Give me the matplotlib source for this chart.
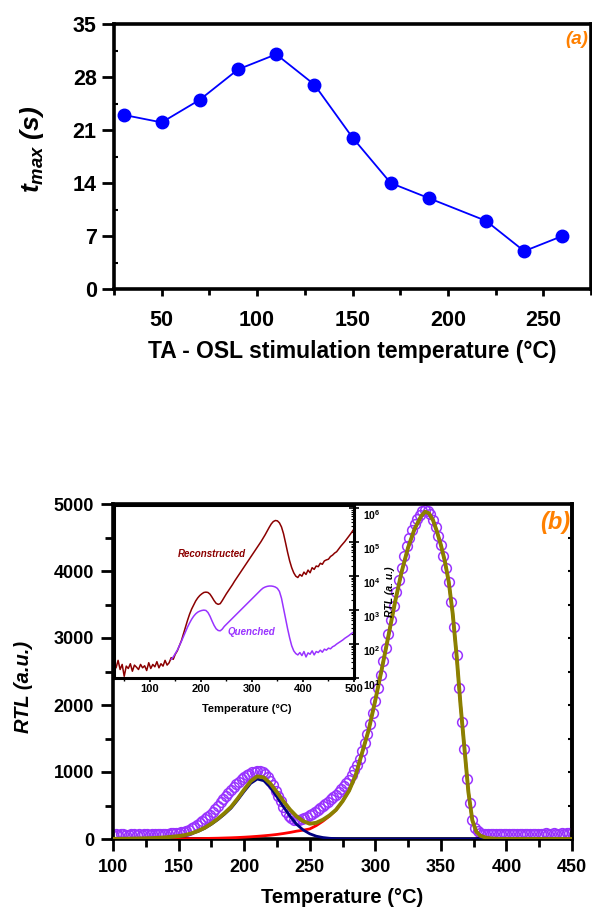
import numpy as np
import matplotlib.pyplot as plt
from matplotlib.ticker import MultipleLocator, FixedLocator, LogLocator, NullFormatter

plt.rcParams['font.family'] = ['Liberation Sans', 'DejaVu Sans']
plt.rcParams['font.weight'] = 'bold'
plt.rcParams['mathtext.fontset'] = 'custom'
plt.rcParams['mathtext.rm'] = 'Liberation Sans:bold'
plt.rcParams['mathtext.it'] = 'Liberation Sans:bold:italic'
plt.rcParams['mathtext.bf'] = 'Liberation Sans:bold'

# ---- panel (a): t_max vs stimulation temperature
stim_temp = [30, 50, 70, 90, 110, 130, 150, 170, 190, 220, 240, 260]
t_max = [23, 22, 25, 29, 31, 27, 20, 14, 12, 9, 5, 7]

# ---- panel (b): measured RTL glow curve (every 2 degC from 100 to 450)
meas_T = np.arange(100, 451, 2)
meas_rtl = [65, 70, 62, 68, 72, 66, 60, 70, 74, 65, 68, 63, 70, 72, 66, 69, 75, 71, 68, 73, 78,
            80, 85, 90, 88, 95, 105, 110, 125, 140, 160,
            185, 210, 235, 265, 295, 330, 365, 405, 450, 500,
            545, 590, 635, 680, 725, 770, 815, 855, 890, 920,
            950, 975, 995, 1005, 1015, 1020, 1005, 975, 930, 870,
            800, 720, 640, 560, 480, 410, 350, 310, 285, 280,
            285, 295, 310, 330, 355, 380, 405, 430, 460, 490,
            520, 555, 590, 625, 660, 700, 740, 785, 830, 880,
            960, 1030, 1110, 1200, 1310, 1430, 1560, 1710, 1880, 2060,
            2250, 2450, 2650, 2850, 3060, 3270, 3480, 3680, 3870, 4050,
            4220, 4370, 4500, 4610, 4700, 4780, 4840, 4890, 4910, 4900,
            4850, 4760, 4650, 4520, 4390, 4230, 4040, 3840, 3530, 3160,
            2740, 2250, 1750, 1350, 900, 530, 290, 170, 115, 90,
            80, 75, 72, 78, 70, 74, 80, 68, 76, 72,
            70, 78, 74, 80, 72, 76, 82, 70, 78, 75,
            80, 74, 82, 77, 85, 72, 80, 86, 78, 82,
            88, 80, 85, 90, 84]

# fitted components
fit_T = [100, 110, 120, 130, 140, 150,
         155, 160, 165, 170, 175, 180, 185, 190, 195, 200, 205, 210, 215, 220, 225,
         230, 235, 240, 245, 250, 255, 260, 265, 270, 275, 280, 285, 290, 295, 300,
         305, 310, 315, 320, 325, 330, 335,
         338, 341, 344, 347, 350, 353, 356, 359, 362, 365, 368, 371, 374, 377, 380,
         385, 390, 395, 400, 420, 450]
fit_peak1 = [2, 4, 7, 12, 22, 40,
             55, 80, 115, 160, 220, 290, 370, 460, 580, 710, 830, 895, 870, 770, 630,
             480, 340, 220, 135, 78, 42, 22, 11, 5, 2, 1, 0, 0, 0, 0,
             0, 0, 0, 0, 0, 0, 0,
             0, 0, 0, 0, 0, 0, 0, 0, 0, 0, 0, 0, 0, 0, 0,
             0, 0, 0, 0, 0, 0]
fit_peak2 = [0, 0, 1, 1, 2, 3,
             4, 5, 6, 8, 10, 12, 15, 18, 22, 27, 33, 40, 48, 57, 68,
             82, 98, 117, 132, 150, 200, 265, 340, 430, 560, 720, 950, 1290, 1630, 2070,
             2540, 3030, 3530, 3980, 4350, 4630, 4820,
             4885, 4860, 4760, 4590, 4390, 4150, 3840, 3370, 2740, 2000, 1350, 700, 280, 110, 50,
             15, 5, 1, 0, 0, 0]
fit_total = np.array(fit_peak1) + np.array(fit_peak2)

# inset: log10 RTL, 4 degC steps
recon_T = np.arange(30, 499, 4)
recon_log = [1.45, 1.30, 1.52, 1.25, 1.40, 1.05, 1.35, 1.28, 1.42, 1.20, 1.38, 1.32, 1.25, 1.40, 1.30,
             1.36, 1.22, 1.45, 1.28, 1.40, 1.33, 1.48, 1.30, 1.42, 1.35, 1.52, 1.38, 1.45, 1.60,
             1.55, 1.70, 1.80, 1.95, 2.10, 2.30, 2.50, 2.70, 2.88, 3.03, 3.15, 3.27, 3.36, 3.43,
             3.48, 3.52, 3.53,
             3.52, 3.47, 3.38, 3.28, 3.20, 3.17, 3.19,
             3.28, 3.38, 3.48, 3.57, 3.66, 3.75, 3.85, 3.94, 4.03, 4.12, 4.21, 4.30, 4.39, 4.48,
             4.57, 4.66, 4.75, 4.84, 4.93, 5.02, 5.12, 5.22, 5.33, 5.44, 5.54, 5.61, 5.64, 5.63,
             5.57, 5.45, 5.25, 4.98, 4.70, 4.45, 4.25, 4.10, 4.00, 3.96,
             4.05, 4.00, 4.12, 4.05, 4.18, 4.10, 4.25, 4.20, 4.30, 4.28, 4.38, 4.35, 4.45, 4.48,
             4.50, 4.58, 4.62, 4.68, 4.72, 4.80, 4.88, 4.95, 5.02, 5.10, 5.18, 5.26, 5.35]
quench_T = np.arange(142, 499, 4)
quench_log = [1.55, 1.62, 1.72, 1.82, 1.95, 2.08, 2.22, 2.36, 2.50, 2.62, 2.73, 2.82, 2.89, 2.94,
              2.97, 2.99, 3.00, 2.99,
              2.93, 2.82, 2.68, 2.55, 2.45, 2.40, 2.39, 2.44,
              2.52, 2.58, 2.64, 2.70, 2.76, 2.82, 2.88, 2.94, 3.00, 3.06, 3.12, 3.18, 3.24, 3.30,
              3.36, 3.42, 3.48, 3.54, 3.60, 3.65, 3.68, 3.70, 3.71, 3.71, 3.70, 3.68, 3.64,
              3.55, 3.35, 3.05, 2.75, 2.45, 2.18, 1.95, 1.80, 1.72, 1.68,
              1.75, 1.66, 1.78, 1.62, 1.74, 1.70, 1.80, 1.68, 1.78, 1.75, 1.82, 1.76, 1.85, 1.82,
              1.88, 1.86, 1.92, 1.95, 2.00, 2.04, 2.08, 2.12, 2.17, 2.21, 2.25, 2.30, 2.34]

orange = '#FF8000'
purple = '#9933FF'
W, H = 592, 908

fig = plt.figure(figsize=(5.92, 9.08), dpi=100)

# ================= panel (a)
ax1 = fig.add_axes([114 / W, 1 - 289 / H, 477 / W, 265 / H])
ax1.plot(stim_temp, t_max, color='#0000FF', lw=1.3, marker='o', ms=9, zorder=3)
ax1.set_xlim(25, 275)
ax1.set_ylim(0, 35)
ax1.xaxis.set_major_locator(FixedLocator([50, 100, 150, 200, 250]))
ax1.xaxis.set_minor_locator(FixedLocator([25, 75, 125, 175, 225, 275]))
ax1.yaxis.set_major_locator(MultipleLocator(7))
ax1.yaxis.set_minor_locator(FixedLocator([3.5, 10.5, 17.5, 24.5, 31.5]))
ax1.tick_params(axis='x', which='major', direction='out', length=5, width=2, labelsize=15.5, pad=10)
ax1.tick_params(axis='x', which='minor', direction='out', length=4, width=2)
ax1.tick_params(axis='y', which='major', direction='out', length=8.5, width=2, labelsize=15.5, pad=4)
ax1.tick_params(axis='y', which='minor', direction='in', length=3, width=1.5)
for s in ax1.spines.values():
    s.set_linewidth(2.6)
ax1.set_xlabel('TA - OSL stimulation temperature (°C)', fontsize=16.5, fontweight='bold')
ax1.xaxis.set_label_coords(0.499, -0.234)
ax1.xaxis.label.set_va('center')
ax1.set_ylabel(r'$t_{max}$ (s)', fontsize=19, fontweight='bold', fontstyle='italic')
ax1.yaxis.set_label_coords(-0.172, 0.528)
ax1.yaxis.label.set_va('center')
fig.text(577 / W, 1 - 40 / H, '(a)', color=orange, fontsize=13.5, fontweight='bold',
         fontstyle='italic', ha='center', va='center')

# ================= panel (b)
ax2 = fig.add_axes([113 / W, 1 - 839 / H, 459 / W, 335 / H])
ax2.plot(meas_T, meas_rtl, ls='none', marker='o', ms=7, mfc='none', mec=purple, mew=1.1, zorder=2)
ax2.plot(fit_T, fit_peak2, color='#FF0000', lw=2.0, zorder=3)
ax2.plot(fit_T, fit_peak1, color='#000080', lw=2.0, zorder=4)
ax2.plot(fit_T, fit_total, color='#8B8000', lw=2.8, zorder=5)
ax2.set_xlim(100, 450)
ax2.set_ylim(0, 5000)
ax2.xaxis.set_major_locator(MultipleLocator(50))
ax2.xaxis.set_minor_locator(MultipleLocator(25))
ax2.yaxis.set_major_locator(MultipleLocator(1000))
ax2.yaxis.set_minor_locator(MultipleLocator(500))
ax2.tick_params(axis='both', which='major', direction='out', length=8.5, width=2, labelsize=13)
ax2.tick_params(axis='both', which='minor', direction='out', length=5.5, width=2)
ax2.tick_params(axis='x', which='major', pad=6)
ax2.tick_params(axis='y', which='major', pad=5)
for s in ax2.spines.values():
    s.set_linewidth(2.6)
# inward ticks on the right spine
sec = ax2.secondary_yaxis('right')
sec.yaxis.set_major_locator(MultipleLocator(1000))
sec.yaxis.set_minor_locator(MultipleLocator(500))
sec.tick_params(axis='y', which='both', direction='in', length=3, width=1.5, labelright=False)
sec.spines['right'].set_linewidth(2.6)
ax2.set_xlabel('Temperature (°C)', fontsize=14.5, fontweight='bold')
ax2.xaxis.set_label_coords(0.5, -0.176)
ax2.xaxis.label.set_va('center')
ax2.set_ylabel('RTL (a.u.)', fontsize=14.5, fontweight='bold', fontstyle='italic')
ax2.yaxis.set_label_coords(-0.196, 0.454)
ax2.yaxis.label.set_va('center')
fig.text(555 / W, 1 - 522 / H, '(b)', color=orange, fontsize=17, fontweight='bold',
         fontstyle='italic', ha='center', va='center')

# ================= inset
ins = fig.add_axes([114 / W, 1 - 678 / H, 240 / W, 173 / H])
ins.plot(recon_T, 10 ** np.array(recon_log), color='#8B0000', lw=1.1)
ins.plot(quench_T, 10 ** np.array(quench_log), color=purple, lw=1.1)
ins.set_yscale('log')
ins.set_xlim(30, 500)
ins.set_ylim(10, 1.25e6)
ins.xaxis.set_major_locator(MultipleLocator(100))
ins.xaxis.set_minor_locator(MultipleLocator(50))
ins.yaxis.set_major_locator(LogLocator(base=10, numticks=10))
ins.yaxis.set_minor_locator(LogLocator(base=10, subs=np.arange(2, 10), numticks=10))
ins.yaxis.set_minor_formatter(NullFormatter())
ins.yaxis.tick_right()
ins.yaxis.set_label_position('right')
ins.tick_params(axis='x', which='major', direction='out', length=3, width=1.2, labelsize=8, pad=1)
ins.tick_params(axis='x', which='minor', direction='out', length=2, width=1.0)
ins.tick_params(axis='y', which='major', direction='inout', length=7, width=1.2, labelsize=7.5, pad=3)
ins.tick_params(axis='y', which='minor', direction='in', length=2.5, width=0.8)
for lab in ins.get_yticklabels():
    lab.set_va('top')
for s in ins.spines.values():
    s.set_linewidth(2.2)
ins.set_xlabel('Temperature (°C)', fontsize=8, fontweight='bold')
ins.xaxis.set_label_coords(0.554, -0.18)
ins.xaxis.label.set_va('center')
ins.set_ylabel('RTL (a. u.)', fontsize=7.5, fontweight='bold', fontstyle='italic')
ins.yaxis.set_label_coords(1.15, 0.5)
ins.yaxis.label.set_va('center')
ins.text(222, 10 ** 4.64, 'Reconstructed', color='#8B0000', fontsize=7, fontweight='bold',
         fontstyle='italic', ha='center', va='center')
ins.text(300, 10 ** 2.35, 'Quenched', color=purple, fontsize=7, fontweight='bold',
         fontstyle='italic', ha='center', va='center')

fig.savefig('out.png', dpi=100)
